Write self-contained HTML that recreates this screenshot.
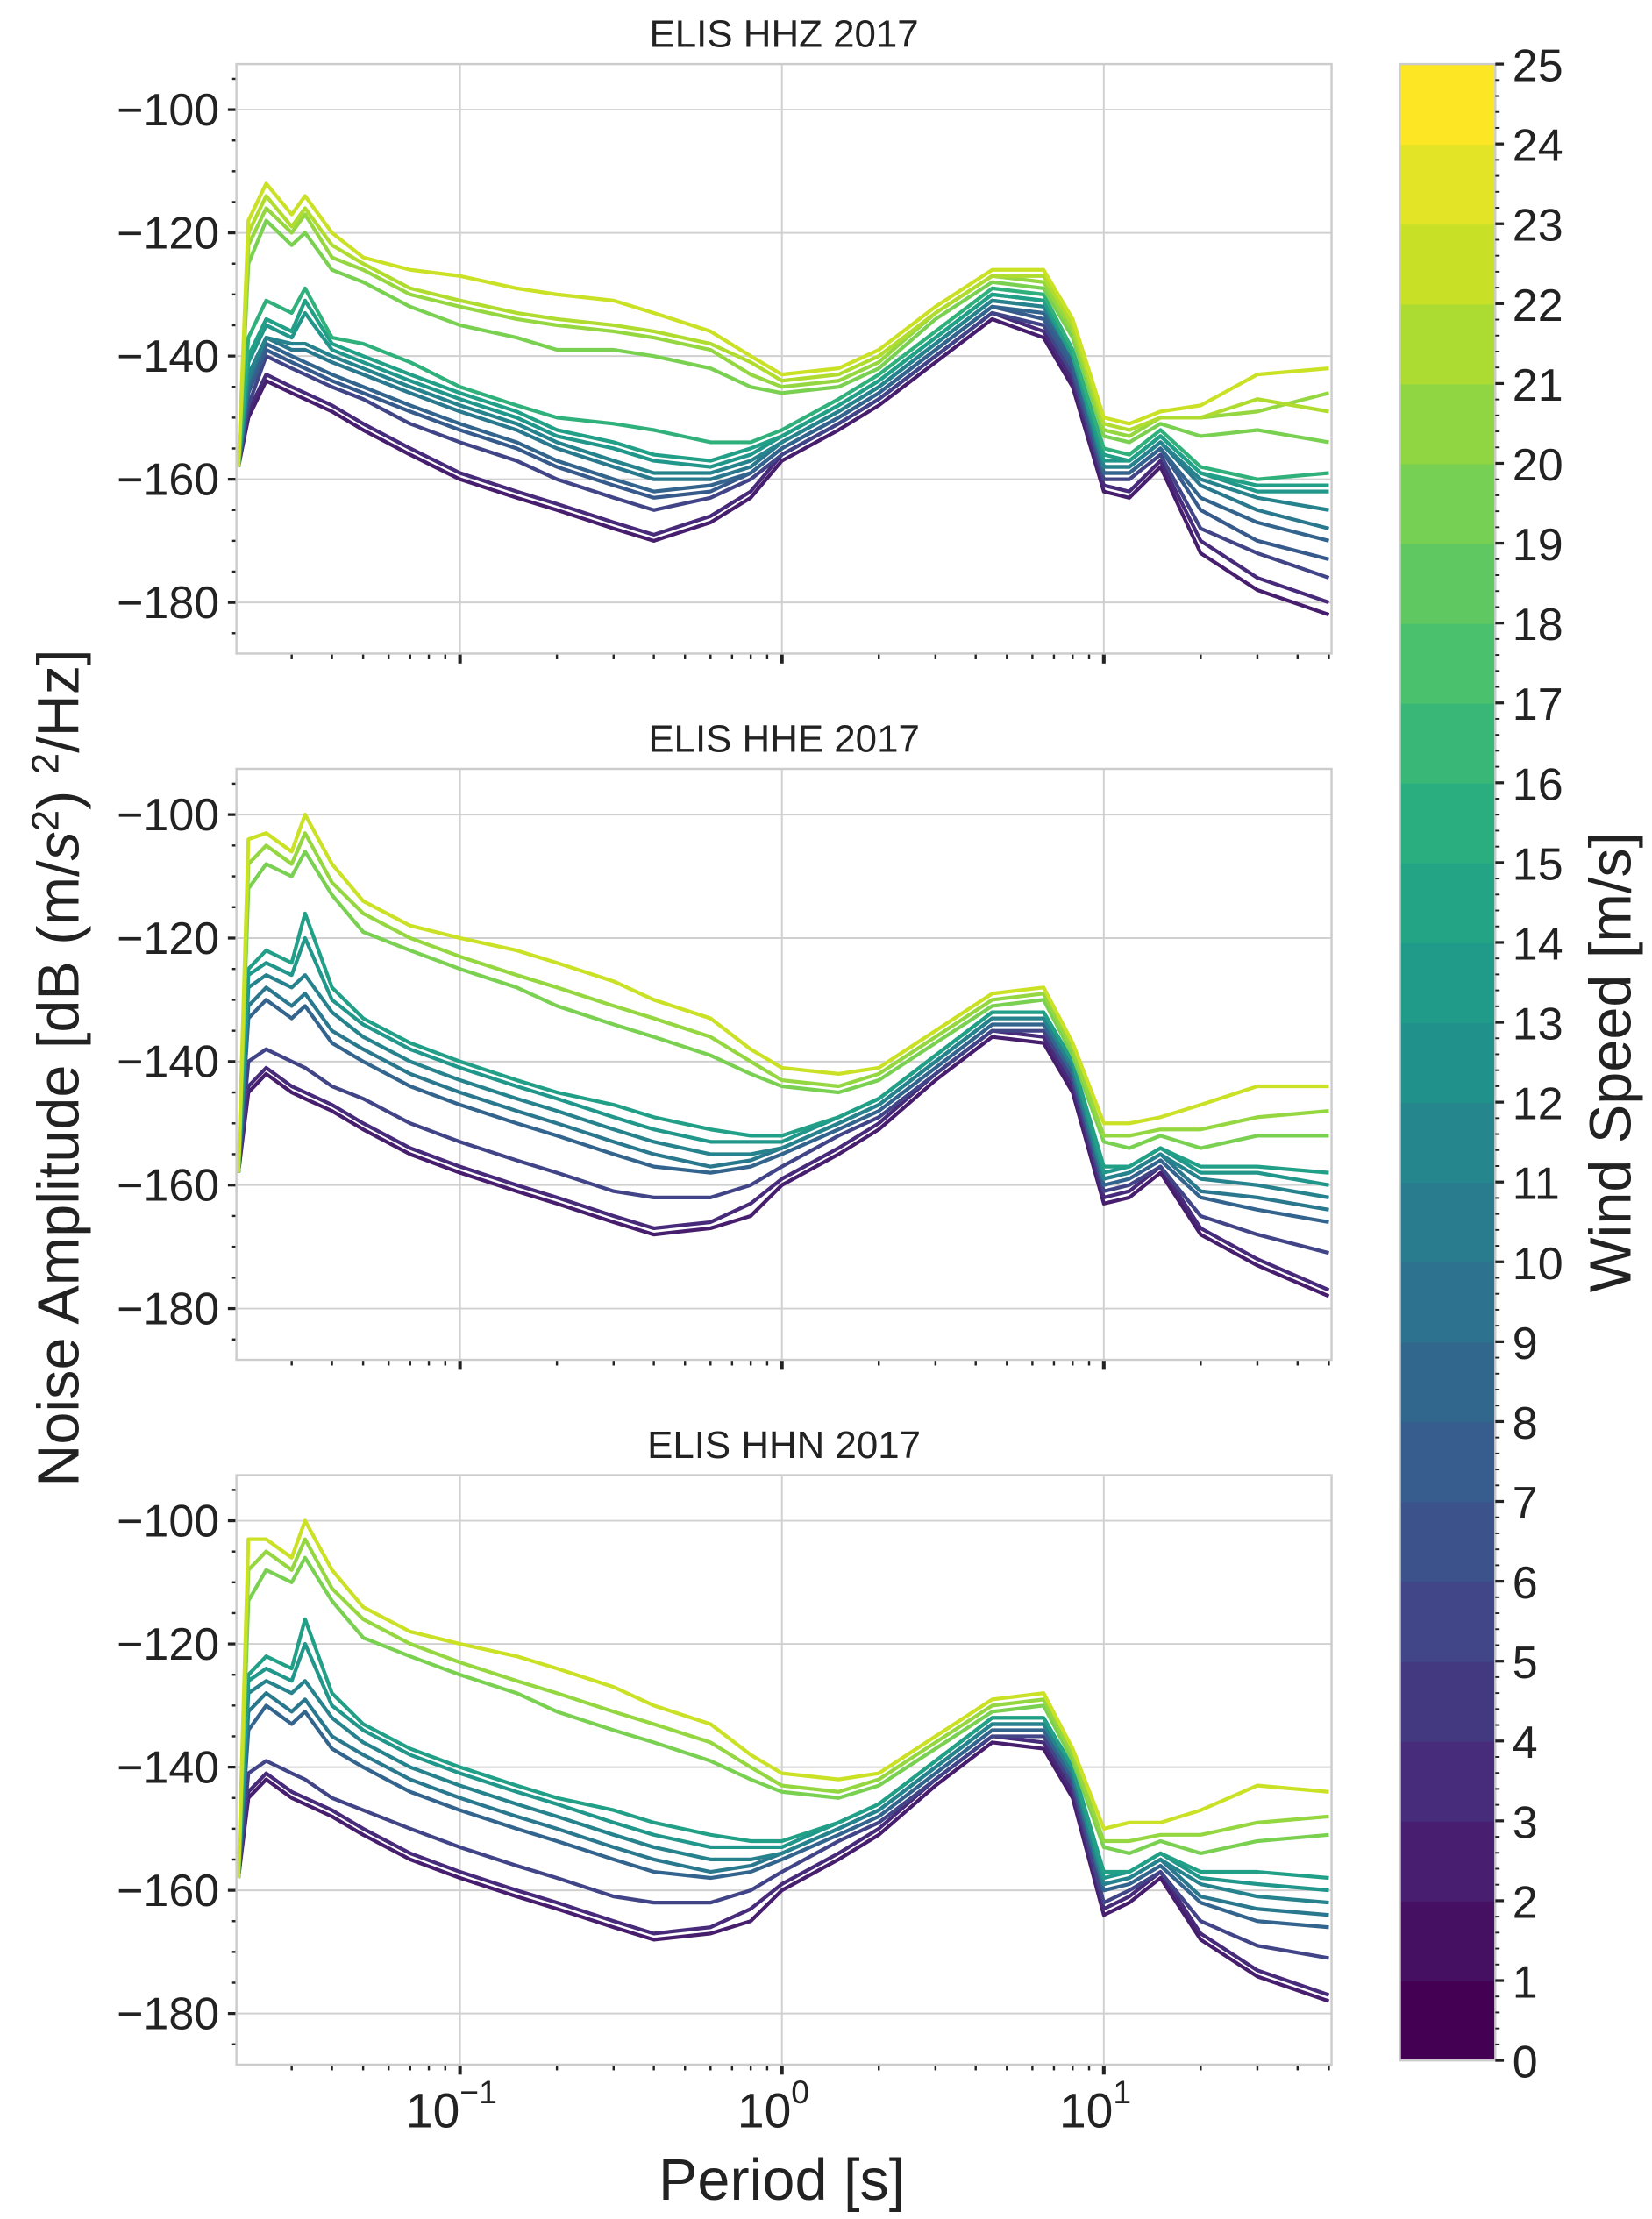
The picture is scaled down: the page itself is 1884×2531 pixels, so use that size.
<!DOCTYPE html>
<html><head><meta charset="utf-8"><style>
html,body{margin:0;padding:0;background:#fff;}
svg{display:block;font-family:"Liberation Sans",sans-serif;}
</style></head><body>
<svg id="fig" width="1884" height="2531" viewBox="0 0 1160 1558.4" xmlns="http://www.w3.org/2000/svg">
<rect width="1160" height="1558.4" fill="#fff"/>
</svg>
<script>
const periods=[0.0205,0.022,0.025,0.03,0.033,0.04,0.05,0.07,0.1,0.15,0.2,0.3,0.4,0.6,0.8,1.0,1.5,2,3,4.5,6.5,8,10,12,15,20,30,50];
const panelTitles=["ELIS HHZ 2017","ELIS HHE 2017","ELIS HHN 2017"];
const windZ=[2,3,5,7,8,10,11,13,14,16,20,21,22,23];
const valsZ=[
[-158,-150,-144,-146,-147,-149,-152,-156,-160,-163,-165,-168,-170,-167,-163,-157,-152,-148,-141,-134,-137,-145,-162,-163,-158,-172,-178,-182],
[-158,-149,-143,-145,-146,-148,-151,-155,-159,-162,-164,-167,-169,-166,-162,-156,-151,-147,-140,-133,-136,-144,-161,-162,-157,-170,-176,-180],
[-158,-148,-140,-142,-143,-145,-147,-151,-154,-157,-160,-163,-165,-163,-160,-156,-151,-147,-140,-133,-135,-143,-160,-160,-156,-168,-172,-176],
[-158,-146,-139,-141,-142,-144,-146,-149,-152,-155,-158,-161,-163,-162,-159,-155,-150,-146,-139,-132,-134,-142,-159,-159,-155,-165,-170,-173],
[-158,-145,-138,-140,-141,-143,-145,-148,-151,-154,-157,-160,-162,-161,-159,-155,-150,-146,-139,-132,-133,-141,-159,-159,-155,-163,-167,-170],
[-158,-144,-137,-139,-139,-141,-143,-146,-149,-152,-155,-158,-160,-160,-158,-154,-149,-145,-138,-131,-132,-140,-158,-158,-154,-161,-165,-168],
[-158,-143,-137,-138,-138,-140,-142,-145,-148,-151,-154,-157,-159,-159,-157,-154,-149,-145,-138,-131,-132,-140,-158,-158,-154,-160,-163,-165],
[-158,-141,-135,-137,-133,-139,-141,-144,-147,-150,-153,-155,-157,-158,-156,-153,-148,-144,-137,-130,-131,-140,-157,-157,-153,-159,-162,-162],
[-158,-140,-134,-136,-131,-138,-140,-143,-146,-149,-152,-154,-156,-157,-155,-153,-148,-144,-137,-130,-131,-140,-156,-157,-153,-159,-161,-161],
[-158,-137,-131,-133,-129,-137,-138,-141,-145,-148,-150,-151,-152,-154,-154,-152,-147,-143,-136,-129,-130,-139,-155,-156,-152,-158,-160,-159],
[-158,-125,-118,-122,-120,-126,-128,-132,-135,-137,-139,-139,-140,-142,-145,-146,-145,-142,-134,-128,-129,-137,-153,-154,-151,-153,-152,-154],
[-158,-122,-116,-120,-117,-124,-126,-130,-132,-134,-135,-136,-137,-139,-143,-145,-144,-141,-133,-127,-128,-136,-152,-153,-150,-150,-149,-146],
[-158,-120,-114,-119,-116,-122,-125,-129,-131,-133,-134,-135,-136,-138,-141,-144,-143,-140,-133,-127,-127,-135,-151,-152,-150,-150,-147,-149],
[-158,-118,-112,-117,-114,-120,-124,-126,-127,-129,-130,-131,-133,-136,-140,-143,-142,-139,-132,-126,-126,-134,-150,-151,-149,-148,-143,-142]];
const windE=[2,3,5,8,10,11,13,14,20,21,23];
const valsE=[
[-158,-145,-142,-145,-146,-148,-151,-155,-158,-161,-163,-166,-168,-167,-165,-160,-155,-151,-143,-136,-137,-145,-163,-162,-158,-168,-173,-178],
[-158,-144,-141,-144,-145,-147,-150,-154,-157,-160,-162,-165,-167,-166,-163,-159,-154,-150,-142,-135,-136,-144,-162,-161,-157,-167,-172,-177],
[-158,-140,-138,-140,-141,-144,-146,-150,-153,-156,-158,-161,-162,-162,-160,-157,-152,-149,-142,-135,-135,-143,-161,-160,-157,-165,-168,-171],
[-158,-133,-130,-133,-131,-137,-140,-144,-147,-150,-152,-155,-157,-158,-157,-155,-151,-148,-141,-134,-134,-142,-160,-159,-156,-162,-164,-166],
[-158,-131,-128,-131,-129,-135,-138,-142,-145,-148,-150,-153,-155,-157,-156,-154,-150,-147,-140,-133,-133,-141,-159,-158,-155,-161,-162,-164],
[-158,-128,-126,-128,-126,-132,-136,-140,-143,-146,-148,-151,-153,-155,-155,-154,-150,-147,-140,-133,-133,-141,-159,-158,-155,-159,-160,-162],
[-158,-126,-124,-126,-120,-130,-134,-138,-141,-144,-146,-149,-151,-153,-153,-153,-149,-146,-139,-132,-132,-140,-158,-157,-154,-158,-158,-160],
[-158,-125,-122,-124,-116,-128,-133,-137,-140,-143,-145,-147,-149,-151,-152,-152,-149,-146,-139,-132,-132,-140,-157,-157,-154,-157,-157,-158],
[-158,-112,-108,-110,-106,-113,-119,-122,-125,-128,-131,-134,-136,-139,-142,-144,-145,-143,-137,-131,-130,-139,-153,-154,-152,-154,-152,-152],
[-158,-108,-105,-108,-103,-111,-116,-120,-123,-126,-128,-131,-133,-136,-140,-143,-144,-142,-136,-130,-129,-138,-152,-152,-151,-151,-149,-148],
[-158,-104,-103,-106,-100,-108,-114,-118,-120,-122,-124,-127,-130,-133,-138,-141,-142,-141,-135,-129,-128,-137,-150,-150,-149,-147,-144,-144]];
const windN=[2,3,5,8,10,11,13,14,20,21,23];
const valsN=[
[-158,-145,-142,-145,-146,-148,-151,-155,-158,-161,-163,-166,-168,-167,-165,-160,-155,-151,-143,-136,-137,-145,-164,-162,-158,-168,-174,-178],
[-158,-144,-141,-144,-145,-147,-150,-154,-157,-160,-162,-165,-167,-166,-163,-159,-154,-150,-142,-135,-136,-144,-163,-161,-157,-167,-173,-177],
[-158,-141,-139,-141,-142,-145,-147,-150,-153,-156,-158,-161,-162,-162,-160,-157,-152,-149,-142,-135,-135,-143,-162,-160,-157,-165,-169,-171],
[-158,-134,-130,-133,-131,-137,-140,-144,-147,-150,-152,-155,-157,-158,-157,-155,-151,-148,-141,-134,-134,-142,-160,-159,-156,-162,-165,-166],
[-158,-131,-128,-131,-129,-135,-138,-142,-145,-148,-150,-153,-155,-157,-156,-154,-150,-147,-140,-133,-133,-141,-159,-158,-155,-161,-163,-164],
[-158,-128,-126,-128,-126,-132,-136,-140,-143,-146,-148,-151,-153,-155,-155,-154,-150,-147,-140,-133,-133,-141,-159,-158,-155,-159,-161,-162],
[-158,-126,-124,-126,-120,-130,-134,-138,-141,-144,-146,-149,-151,-153,-153,-153,-149,-146,-139,-132,-132,-140,-158,-157,-154,-158,-159,-160],
[-158,-125,-122,-124,-116,-128,-133,-137,-140,-143,-145,-147,-149,-151,-152,-152,-149,-146,-139,-132,-132,-140,-157,-157,-154,-157,-157,-158],
[-158,-113,-108,-110,-106,-113,-119,-122,-125,-128,-131,-134,-136,-139,-142,-144,-145,-143,-137,-131,-130,-139,-153,-154,-152,-154,-152,-151],
[-158,-108,-105,-108,-103,-111,-116,-120,-123,-126,-128,-131,-133,-136,-140,-143,-144,-142,-136,-130,-129,-138,-152,-152,-151,-151,-149,-148],
[-158,-103,-103,-106,-100,-108,-114,-118,-120,-122,-124,-127,-130,-133,-138,-141,-142,-141,-135,-129,-128,-137,-150,-149,-149,-147,-143,-144]];
const yTicks=[-100,-120,-140,-160,-180];
const cbTicks=[0,1,2,3,4,5,6,7,8,9,10,11,12,13,14,15,16,17,18,19,20,21,22,23,24,25];

const NS="http://www.w3.org/2000/svg";
const svg=document.getElementById('fig');
function el(tag,attrs,parent){const e=document.createElementNS(NS,tag);for(const k in attrs)e.setAttribute(k,attrs[k]);(parent||svg).appendChild(e);return e;}
const VS=[[68,1,84],[72,36,117],[65,68,135],[53,95,141],[42,120,142],[33,145,140],[34,168,132],[68,191,112],[122,209,81],[189,223,38],[253,231,37]];
function viridis(t){t=Math.max(0,Math.min(1,t))*10;const i=Math.min(9,Math.floor(t)),f=t-i;const a=VS[i],b=VS[i+1];return `rgb(${Math.round(a[0]+(b[0]-a[0])*f)},${Math.round(a[1]+(b[1]-a[1])*f)},${Math.round(a[2]+(b[2]-a[2])*f)})`;}

const X0=166,X1=935,LX0=Math.log10(0.0202),LX1=Math.log10(51);
function xs(p){return X0+(Math.log10(p)-LX0)/(LX1-LX0)*(X1-X0);}
const panels=[{top:45,bot:459,w:windZ,v:valsZ},{top:540,bot:955,w:windE,v:valsE},{top:1036,bot:1450,w:windN,v:valsN}];
const YMIN=-188.3,YMAX=-92.6;
panels.forEach((P,pi)=>{
  const g=el('g',{});
  
  
  const ys=v=>P.bot-(v-YMIN)/(YMAX-YMIN)*(P.bot-P.top);
  [-1,0,1].forEach(d=>{const x=xs(Math.pow(10,d));el('line',{x1:x,x2:x,y1:P.top,y2:P.bot,stroke:'#d0d0d0','stroke-width':1.2},g);});
  yTicks.forEach(t=>{const y=ys(t);el('line',{x1:X0,x2:X1,y1:y,y2:y,stroke:'#d0d0d0','stroke-width':1.2},g);
    const tx=el('text',{x:X0-12,y:y+11,'text-anchor':'end','font-size':32,fill:'#222'},g);tx.textContent='\u2212'+Math.abs(t);
    
    el('line',{x1:X0-6,x2:X0,y1:y,y2:y,stroke:'#222','stroke-width':2},g);});
  for(let t=-185;t<=-95;t+=5){if(t%20===0)continue;const y=ys(t);if(y<P.top||y>P.bot)continue;el('line',{x1:X0-3,x2:X0,y1:y,y2:y,stroke:'#222','stroke-width':1.5},g);}
  for(let d=-2;d<=1;d++)for(let m=1;m<10;m++){const p=m*Math.pow(10,d);if(p<0.0202||p>51)continue;const x=xs(p);
    el('line',{x1:x,x2:x,y1:P.bot,y2:P.bot+(m===1?7:4),stroke:'#222','stroke-width':m===1?2.5:1.5},g);}
  P.v.forEach((vals,si)=>{
    const pts=periods.map((p,i)=>xs(p).toFixed(1)+','+ys(vals[i]).toFixed(1)).join(' ');
    const pl=el('polyline',{points:pts,fill:'none',stroke:viridis(P.w[si]/25),'stroke-width':2.6,'stroke-linejoin':'round'},g);
    
    
  });
  el('rect',{x:X0,y:P.top,width:X1-X0,height:P.bot-P.top,fill:'none',stroke:'#cccccc','stroke-width':1.5},g);
  const tt=el('text',{x:(X0+X1)/2,y:P.top-12,'text-anchor':'middle','font-size':27,fill:'#222'},g);tt.textContent=panelTitles[pi];
  
});
[-1,0,1].forEach(d=>{const x=xs(Math.pow(10,d));const t=el('text',{x:x-6,y:1494,'text-anchor':'middle','font-size':34,fill:'#222'});
  
  t.textContent='10';const s=el('tspan',{dy:-17,'font-size':23},t);s.textContent=d<0?'\u2212'+Math.abs(d):String(d);});
const xl=el('text',{x:549,y:1545,'text-anchor':'middle','font-size':41,fill:'#222'});xl.textContent='Period [s]';

const yl=el('text',{x:0,y:0,'text-anchor':'middle','font-size':41,fill:'#222',transform:'translate(55,750) rotate(-90)'});

yl.innerHTML='Noise Amplitude [dB (m/<tspan font-style="italic">s</tspan><tspan dy="-14" font-size="27">2</tspan><tspan dy="14">) </tspan><tspan dy="-14" font-size="27">2</tspan><tspan dy="14">/Hz]</tspan>';
const CB={x:983,w:67,top:45,bot:1447};
const cb=el('g',{});
const bh=(CB.bot-CB.top)/25;
for(let i=0;i<25;i++){el('rect',{x:CB.x,y:CB.bot-(i+1)*bh,width:CB.w,height:bh+0.6,fill:viridis(i/24)},cb);}
el('rect',{x:CB.x,y:CB.top,width:CB.w,height:CB.bot-CB.top,fill:'none',stroke:'#ccc','stroke-width':1.5},cb);
cbTicks.forEach(t=>{const y=CB.bot-t*bh;el('line',{x1:CB.x+CB.w,x2:CB.x+CB.w+6,y1:y,y2:y,stroke:'#222','stroke-width':2},cb);
  const tx=el('text',{x:CB.x+CB.w+12,y:y+12,'font-size':32,fill:'#222'},cb);tx.textContent=t;
  });
for(let t=0;t<25;t+=0.2){if(Math.abs(t-Math.round(t))<1e-6)continue;const y=CB.bot-t*bh;el('line',{x1:CB.x+CB.w,x2:CB.x+CB.w+3,y1:y,y2:y,stroke:'#222','stroke-width':1.2},cb);}
const cl=el('text',{x:0,y:0,'text-anchor':'middle','font-size':41,fill:'#222',transform:'translate(1145,746) rotate(-90)'});cl.textContent='Wind Speed [m/s]';

</script>
</body></html>
